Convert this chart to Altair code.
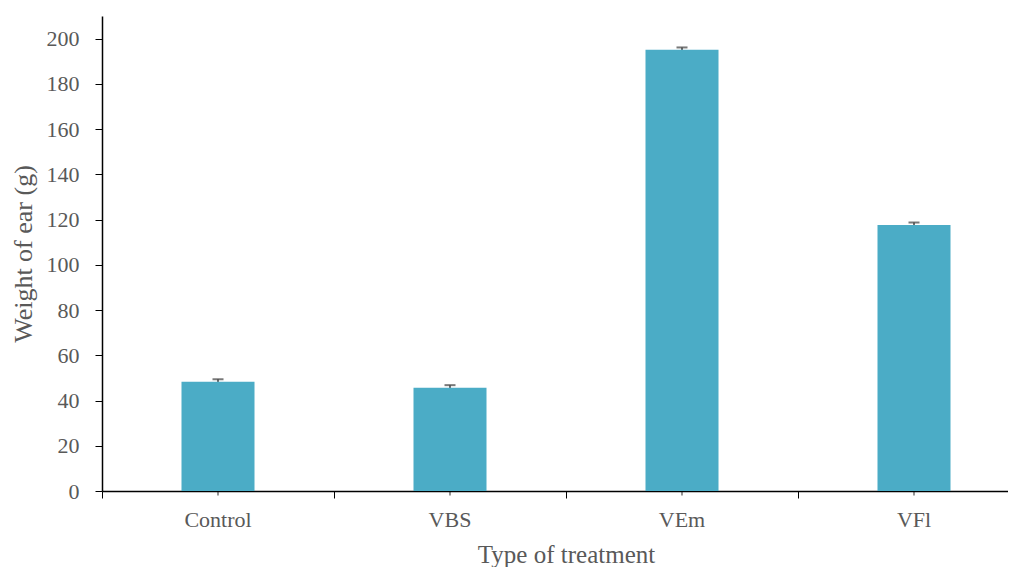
import altair as alt
import pandas as pd

categories = ["Control", "VBS", "VEm", "VFl"]
weights = [48.3, 45.7, 195.1, 117.6]
errors = [1.1, 1.1, 1.0, 1.1]

df = pd.DataFrame({
    "treatment": categories,
    "weight": weights,
    "lo": [w - e for w, e in zip(weights, errors)],
    "hi": [w + e for w, e in zip(weights, errors)],
    "zero": [0, 0, 0, 0],
})

FONT = "Liberation Serif"
x_scale = alt.Scale(domain=categories, range=[0, 928], paddingInner=0, paddingOuter=0)
y_scale = alt.Scale(domain=[0, 210], nice=False, zero=True)

x_axis = alt.Axis(
    title="Type of treatment", bandPosition=0, tickSize=7, tickColor="black",
    domainColor="black", domainWidth=1.5, labelAngle=0, labelPadding=11,
    labelFont=FONT, labelFontSize=22, labelColor="#595959",
    titleFont=FONT, titleFontSize=25, titleColor="#595959", titleFontWeight="normal",
    titlePadding=12, grid=False,
)
y_axis = alt.Axis(
    title="Weight of ear (g)", values=list(range(0, 201, 20)), tickSize=7,
    tickColor="black", domainColor="black", domainWidth=1.5, labelPadding=16,
    labelFont=FONT, labelFontSize=22, labelColor="#595959",
    titleFont=FONT, titleFontSize=26, titleColor="#595959", titleFontWeight="normal",
    titlePadding=10, grid=False,
)

base = alt.Chart(df)

center_ticks = base.mark_tick(color="black", thickness=1.2, size=9, orient="vertical").encode(
    x=alt.X("treatment:N", scale=x_scale, axis=x_axis, sort=categories),
    y=alt.Y("zero:Q", scale=y_scale, axis=y_axis),
)

err_rule = base.mark_rule(color="#404040", strokeWidth=1.5).encode(
    x=alt.X("treatment:N", scale=x_scale, sort=categories),
    y=alt.Y("lo:Q", scale=y_scale),
    y2="hi:Q",
)
err_cap = base.mark_tick(color="#404040", thickness=2, size=11, orient="horizontal").encode(
    x=alt.X("treatment:N", scale=x_scale, sort=categories),
    y=alt.Y("hi:Q", scale=y_scale),
)
bars = base.mark_bar(color="#4BACC6", size=73).encode(
    x=alt.X("treatment:N", scale=x_scale, sort=categories),
    y=alt.Y("weight:Q", scale=y_scale),
)

chart = alt.layer(center_ticks, err_rule, err_cap, bars).properties(
    width=906, height=475,
    autosize=alt.AutoSizeParams(type="none"),
    padding={"left": 94, "top": 8, "right": 0, "bottom": 76},
).configure(background="white").configure_view(stroke=None)

chart.save("out.html", embed_options={"renderer": "svg", "actions": False})
